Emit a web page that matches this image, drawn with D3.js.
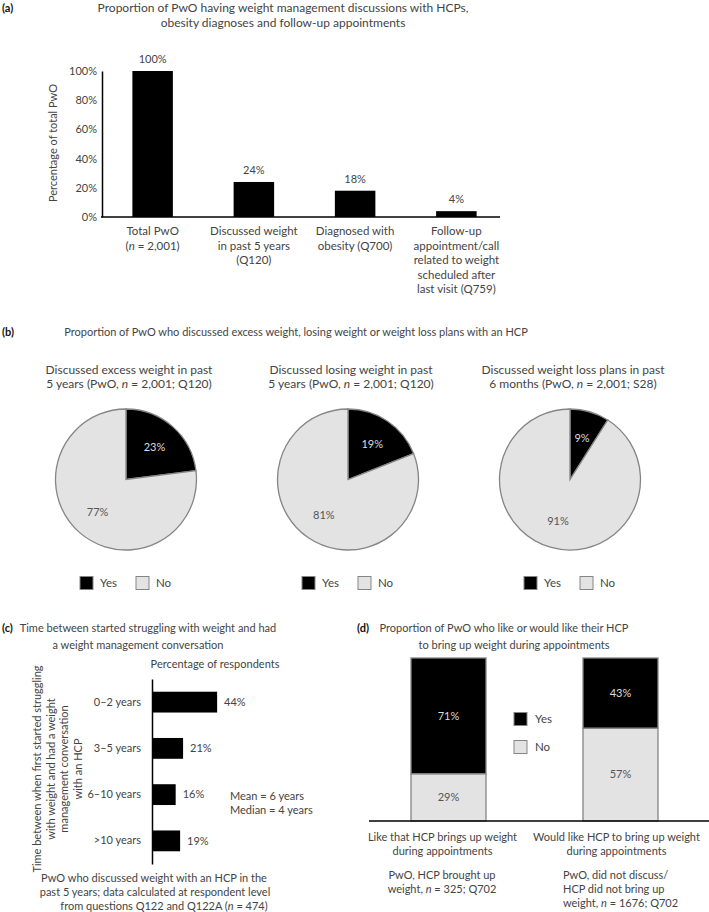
<!DOCTYPE html>
<html><head><meta charset="utf-8">
<script src="https://cdn.jsdelivr.net/npm/d3@7"></script>
<style>body{margin:0;background:#fff}svg{display:block}text{font-family:Lato,"Open Sans",sans-serif}</style>
</head><body><svg id="c" width="709" height="912"></svg>
<script>
// ---------- data ----------
const catsA = [["Total PwO","(*n* = 2,001)"],["Discussed weight","in past 5 years","(Q120)"],["Diagnosed with","obesity (Q700)"],["Follow-up","appointment/call","related to weight","scheduled after","last visit (Q759)"]];
const valuesA = [100, 24, 18, 4];
const ticksA = [0, 20, 40, 60, 80, 100];

const pieTitles = [["Discussed excess weight in past","5 years (PwO, *n* = 2,001; Q120)"],["Discussed losing weight in past","5 years (PwO, *n* = 2,001; Q120)"],["Discussed weight loss plans in past","6 months (PwO, *n* = 2,001; S28)"]];
const pieYes = [23, 19, 9];
const pieNo = [77, 81, 91];
const legendLabels = ["Yes", "No"];

const catsC = ["0–2 years", "3–5 years", "6–10 years", ">10 years"];
const valuesC = [44, 21, 16, 19];

const catsD = [["Like that HCP brings up weight","during appointments"],["Would like HCP to bring up weight","during appointments"]];
const subD = [["PwO, HCP brought up","weight, *n* = 325; Q702"],["PwO, did not discuss/","HCP did not bring up","weight, *n* = 1676; Q702"]];
const yesD = [71, 43];
const noD = [29, 57];

// ---------- helpers ----------
const svg = d3.select("#c");
const TXT = "#444", BLACK = "#000", GREY = "#e3e3e3", EDGE = "#858585";
const FS = 11;
function line(sel, s) {
  const parts = s.split("*");
  parts.forEach((p, i) => { if (p.length) sel.append("tspan").text(p).attr("font-style", i % 2 ? "italic" : null); });
}
function txt(x, y, lines, o = {}) {
  if (typeof lines === "string") lines = [lines];
  const lh = o.lh || 14;
  const g = svg.append("g");
  lines.forEach((s, i) => {
    const t = g.append("text").attr("x", x).attr("y", y + i * lh).attr("dy", "0.35em")
      .attr("text-anchor", o.anchor || "middle").attr("font-size", o.size || FS)
      .attr("fill", o.color || TXT).attr("font-weight", o.weight || null);
    line(t, s);
  });
  return g;
}

// ---------- (a) ----------
txt(2, 8, "(a)", {anchor: "start", weight: "bold", color: "#111"});
txt(283, 8, ["Proportion of PwO having weight management discussions with HCPs,", "obesity diagnoses and follow-up appointments"], {lh: 15, size: 12});
const xA = d3.scaleBand().domain(d3.range(valuesA.length)).range([102, 507]).paddingInner(0.6).paddingOuter(0.3);
const yA = d3.scaleLinear().domain([0, 100]).range([217, 71]);
svg.append("g").selectAll("rect").data(valuesA).join("rect")
  .attr("x", (d, i) => xA(i)).attr("width", xA.bandwidth())
  .attr("y", d => yA(d)).attr("height", d => yA(0) - yA(d)).attr("fill", BLACK);
const axA = svg.append("g").attr("transform", "translate(102,0)")
  .call(d3.axisLeft(yA).tickValues(ticksA).tickFormat(d => d + "%").tickSize(0).tickPadding(5));
axA.select(".domain").attr("stroke", "#000").attr("stroke-width", 1.5);
axA.selectAll("text").attr("font-size", FS).attr("fill", TXT).attr("font-family", "Lato");
svg.append("line").attr("x1", 101).attr("x2", 500).attr("y1", yA(0)).attr("y2", yA(0)).attr("stroke", "#000").attr("stroke-width", 1.5);
valuesA.forEach((v, i) => txt(xA(i) + xA.bandwidth() / 2, yA(v) - 12, v + "%"));
catsA.forEach((c, i) => txt(xA(i) + xA.bandwidth() / 2, 231, c, {lh: 14.5, size: 11.5}));
txt(0, 0, "Percentage of total PwO").attr("transform", "translate(53,143) rotate(-90)");

// ---------- (b) ----------
txt(2, 332, "(b)", {anchor: "start", weight: "bold", color: "#111"});
txt(296, 332, "Proportion of PwO who discussed excess weight, losing weight or weight loss plans with an HCP");
const pieCx = [126, 348, 570], pieCy = 479.5, R = 70.5;
const pie = d3.pie().sort(null).value(d => d);
const arc = d3.arc().innerRadius(0).outerRadius(R);
const lab = d3.arc().innerRadius(43).outerRadius(43);
pieYes.forEach((yv, k) => {
  const cx = pieCx[k];
  txt(cx + 3, 370, pieTitles[k], {lh: 14, size: 12});
  const g = svg.append("g").attr("transform", `translate(${cx},${pieCy})`);
  const arcs = pie([yv, pieNo[k]]);
  g.selectAll("path").data(arcs).join("path").attr("d", arc)
    .attr("fill", (d, i) => i ? GREY : BLACK).attr("stroke", EDGE).attr("stroke-width", 1.3);
  arcs.forEach((a, i) => {
    const [px, py] = lab.centroid(a);
    g.append("text").attr("x", px).attr("y", py).attr("dy", "0.35em").attr("text-anchor", "middle")
      .attr("font-size", FS).attr("fill", i ? "#555" : "#ddd").text(a.data + "%");
  });
  legendLabels.forEach((l, i) => {
    const lx = cx - 46 + i * 56;
    svg.append("rect").attr("x", lx).attr("y", 576.5).attr("width", 13).attr("height", 13)
      .attr("fill", i ? GREY : BLACK).attr("stroke", EDGE).attr("stroke-width", 1);
    txt(lx + 20, 583, l, {anchor: "start", size: 11.5});
  });
});

// ---------- (c) ----------
txt(2, 628, "(c)", {anchor: "start", weight: "bold", color: "#111"});
txt(148, 628, ["Time between started struggling with weight and had"], {});
txt(138, 645, ["a weight management conversation"], {});
txt(215, 664, "Percentage of respondents");
const yC = d3.scaleBand().domain(catsC).range([679, 864]).paddingInner(0.55).paddingOuter(0.275);
const xC = d3.scaleLinear().domain([0, 100]).range([152, 300]);
svg.append("g").selectAll("rect").data(valuesC).join("rect")
  .attr("x", xC(0)).attr("y", (d, i) => yC(catsC[i])).attr("height", yC.bandwidth())
  .attr("width", d => xC(d) - xC(0)).attr("fill", BLACK);
const axC = svg.append("g").attr("transform", `translate(${xC(0)},0)`)
  .call(d3.axisLeft(yC).tickSize(0).tickPadding(11));
axC.select(".domain").attr("stroke", "#000").attr("stroke-width", 1.5);
axC.selectAll("text").attr("font-size", FS).attr("fill", TXT).attr("font-family", "Lato");
valuesC.forEach((v, i) => txt(xC(v) + 7, yC(catsC[i]) + yC.bandwidth() / 2, v + "%", {anchor: "start"}));
txt(230, 796, ["Mean = 6 years", "Median = 4 years"], {anchor: "start", lh: 14});
txt(0, 0, ["Time between when first started struggling", "with weight and had a weight", "management conversation", "with an HCP"], {lh: 13.7})
  .attr("transform", "translate(37,769) rotate(-90)");
txt(154, 878, "PwO who discussed weight with an HCP in the");
txt(155, 892, "past 5 years; data calculated at respondent level");
txt(164, 906, "from questions Q122 and Q122A (*n* = 474)");

// ---------- (d) ----------
txt(357, 628, "(d)", {anchor: "start", weight: "bold", color: "#111"});
txt(504, 628, "Proportion of PwO who like or would like their HCP");
txt(514, 645, "to bring up weight during appointments");
const xD = d3.scaleBand().domain(d3.range(yesD.length)).range([362.5, 706.5]).paddingInner(0.564).paddingOuter(0.282);
const yD = d3.scaleLinear().domain([0, 100]).range([821, 658]);
const stackD = yesD.map((y, i) => ({no: noD[i], yes: y}));
const series = d3.stack().keys(["no", "yes"])(stackD);
series.forEach((s, si) => {
  svg.append("g").selectAll("rect").data(s).join("rect")
    .attr("x", (d, i) => xD(i)).attr("width", xD.bandwidth())
    .attr("y", d => yD(d[1])).attr("height", d => yD(d[0]) - yD(d[1]))
    .attr("fill", si ? BLACK : GREY).attr("stroke", EDGE).attr("stroke-width", 1.3);
  s.forEach((d, i) => txt(xD(i) + xD.bandwidth() / 2, (yD(d[0]) + yD(d[1])) / 2, (d[1] - d[0]) + "%",
    {color: si ? "#ddd" : "#555"}));
});
svg.append("line").attr("x1", 369).attr("x2", 709).attr("y1", yD(0)).attr("y2", yD(0)).attr("stroke", "#000").attr("stroke-width", 1.5);
legendLabels.forEach((l, i) => {
  svg.append("rect").attr("x", 514).attr("y", 712.5 + i * 28).attr("width", 13).attr("height", 13)
    .attr("fill", i ? GREY : BLACK).attr("stroke", EDGE).attr("stroke-width", 1);
  txt(535, 719 + i * 28, l, {anchor: "start", size: 11.5});
});
catsD.forEach((c, i) => txt(xD(i) + xD.bandwidth() / 2 + (i ? -4 : -6), 837, c, {lh: 14}));
txt(442, 875, subD[0], {lh: 14});
txt(563, 875, subD[1], {anchor: "start", lh: 14});
</script></body></html>
